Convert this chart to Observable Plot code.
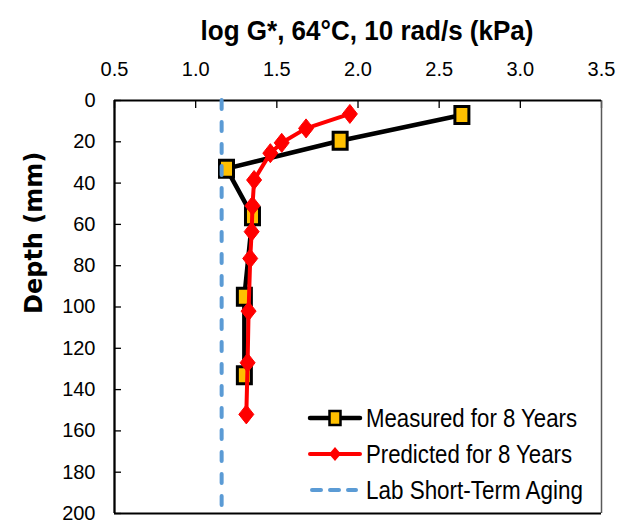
<!DOCTYPE html>
<html>
<head>
<meta charset="utf-8">
<script src="https://cdn.jsdelivr.net/npm/d3@7"></script>
<script src="https://cdn.jsdelivr.net/npm/@observablehq/plot@0.6"></script>
<style>
  html, body { margin: 0; padding: 0; background: #fff; }
  #wrap { position: relative; width: 628px; height: 524px; }
  #legend { position: absolute; left: 0; top: 0; }
</style>
</head>
<body>
<div id="wrap"></div>
<script>
// ---- data ----
const titleText = ["log G*, 64°C, 10 rad/s (kPa)"];
const yLabelText = ["Depth (mm)"];
const xTicks = [0.5, 1.0, 1.5, 2.0, 2.5, 3.0, 3.5];
const yTicks = [0, 20, 40, 60, 80, 100, 120, 140, 160, 180, 200];

const measuredG = [2.64, 1.89, 1.19, 1.35, 1.30, 1.30];
const measuredDepth = [7, 19.5, 33, 56, 95, 133];

const predictedG = [1.95, 1.68, 1.53, 1.46, 1.36, 1.35, 1.345, 1.336, 1.326, 1.32, 1.312];
const predictedDepth = [6.5, 13.5, 20.5, 25.5, 38.5, 51, 63.5, 76.5, 102, 127, 152];

const labShortTerm = [1.16];

const seriesNames = ["Measured for 8 Years", "Predicted for 8 Years", "Lab Short-Term Aging"];

// ---- build ----
const measured = measuredG.map((g, i) => ({g, depth: measuredDepth[i]}));
const predicted = predictedG.map((g, i) => ({g, depth: predictedDepth[i]}));

const rectSymbol = {draw(ctx) { ctx.rect(-7, -8.5, 14, 17); }};
const diamondSymbol = {draw(ctx) { ctx.moveTo(0, -9.5); ctx.lineTo(7.5, 0); ctx.lineTo(0, 9.5); ctx.lineTo(-7.5, 0); ctx.closePath(); }};

const FONT = "'Liberation Sans', Arial, sans-serif";

const chart = Plot.plot({
  width: 628,
  height: 524,
  marginTop: 100,
  marginLeft: 114,
  marginRight: 27,
  marginBottom: 11,
  style: {fontFamily: FONT, background: "#fff", overflow: "visible"},
  x: {domain: [0.5, 3.5]},
  y: {domain: [0, 200], reverse: true},
  marks: [
    Plot.axisX({anchor: "top", ticks: xTicks, tickFormat: d => d.toFixed(1), tickSize: -7, tickPadding: 32,
      label: null, fontSize: 20, stroke: "#000", strokeWidth: 1.3, color: "#000"}),
    Plot.axisY({anchor: "left", ticks: yTicks, tickFormat: d => String(d), tickSize: -7, tickPadding: 26,
      label: null, fontSize: 20, strokeWidth: 1.3, color: "#000"}),
    Plot.ruleX([3.5], {stroke: "#595959", strokeWidth: 1.5}),
    Plot.ruleY([200], {stroke: "#000", strokeWidth: 2}),
    Plot.ruleY([0], {stroke: "#000", strokeWidth: 2}),
    Plot.ruleX([0.5], {stroke: "#000", strokeWidth: 2.3}),
    Plot.line(measured, {x: "g", y: "depth", stroke: "#000", strokeWidth: 4.5, strokeLinejoin: "round"}),
    Plot.dot(measured, {x: "g", y: "depth", symbol: rectSymbol, fill: "#FFC000", stroke: "#000", strokeWidth: 3}),
    Plot.line(predicted, {x: "g", y: "depth", stroke: "#FF0000", strokeWidth: 4, strokeLinejoin: "round"}),
    Plot.dot(predicted, {x: "g", y: "depth", symbol: diamondSymbol, fill: "#FF0000", stroke: "#FF0000", strokeWidth: 1}),
    Plot.ruleX(labShortTerm, {stroke: "#5B9BD5", strokeWidth: 4, strokeDasharray: "9,13", strokeLinecap: "round"}),
    Plot.text(titleText, {frameAnchor: "top", dx: 9, dy: -80, fontSize: 28, fontWeight: "bold", fill: "#000"}),
    Plot.text(yLabelText, {frameAnchor: "left", rotate: -90, dx: -80, dy: 7, fontSize: 24, fontWeight: "bold",
      fontFamily: "'DejaVu Sans', sans-serif", fill: "#000"})
  ]
});

const wrap = document.getElementById("wrap");
wrap.appendChild(chart);

// condense title glyphs (Arial Narrow look)
d3.select(chart).selectAll("text").filter(function() { return this.textContent === titleText[0]; })
  .attr("textLength", 333).attr("lengthAdjust", "spacingAndGlyphs");

// ---- legend overlay ----
const leg = d3.select(wrap).append("svg").attr("id", "legend")
  .attr("width", 628).attr("height", 524)
  .style("font-family", FONT);
const rowY = [418, 454, 490];
const legWidths = [211, 206, 217];
const sx0 = 310, sx1 = 360, tx = 366;
// measured
leg.append("line").attr("x1", sx0).attr("x2", sx1).attr("y1", rowY[0]).attr("y2", rowY[0])
  .attr("stroke", "#000").attr("stroke-width", 4.5).attr("stroke-linecap", "round");
leg.append("rect").attr("x", 335 - 5.5).attr("y", rowY[0] - 7).attr("width", 11).attr("height", 14)
  .attr("fill", "#FFC000").attr("stroke", "#000").attr("stroke-width", 2.5);
// predicted
leg.append("line").attr("x1", sx0).attr("x2", sx1).attr("y1", rowY[1]).attr("y2", rowY[1])
  .attr("stroke", "#FF0000").attr("stroke-width", 4).attr("stroke-linecap", "round");
leg.append("path").attr("d", `M335,${rowY[1]-7}L341,${rowY[1]}L335,${rowY[1]+7}L329,${rowY[1]}Z`)
  .attr("fill", "#FF0000");
// lab
leg.append("line").attr("x1", sx0 + 2).attr("x2", sx1 - 4).attr("y1", rowY[2]).attr("y2", rowY[2])
  .attr("stroke", "#5B9BD5").attr("stroke-width", 4).attr("stroke-dasharray", "9,9").attr("stroke-linecap", "round");
seriesNames.forEach((name, i) => {
  leg.append("text").attr("x", tx).attr("y", rowY[i]).attr("dy", "0.36em")
    .attr("font-size", 25).attr("fill", "#000")
    .attr("textLength", legWidths[i]).attr("lengthAdjust", "spacingAndGlyphs").text(name);
});
</script>
</body>
</html>
